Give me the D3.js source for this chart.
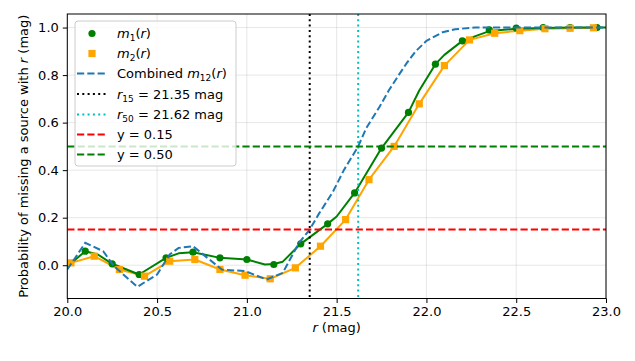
<!DOCTYPE html>
<html>
<head>
<meta charset="utf-8">
<script src="https://cdn.jsdelivr.net/npm/d3@7"></script>
<style>
  body { margin: 0; background: #fff; }
  svg { display: block; font-family: "DejaVu Sans", sans-serif; }
</style>
</head>
<body>
<svg id="chart" width="635" height="361"></svg>
<script>
// ---- data ----
const m1X = [20.10,20.25,20.40,20.55,20.70,20.85,21.00,21.15,21.30,21.45,21.60,21.75,21.90,22.05,22.20,22.35,22.50,22.65,22.80,22.95];
const m1Y = [0.059,0.006,-0.039,0.031,0.055,0.031,0.024,0.003,0.090,0.174,0.304,0.493,0.643,0.846,0.944,0.990,0.998,1.0,1.0,1.0];

const m2X = [20.02,20.15,20.29,20.43,20.57,20.71,20.85,20.99,21.13,21.27,21.41,21.55,21.68,21.82,21.96,22.10,22.24,22.38,22.52,22.66,22.80,22.93];
const m2Y = [0.010,0.038,-0.018,-0.046,0.017,0.024,-0.018,-0.042,-0.057,-0.011,0.080,0.192,0.360,0.500,0.679,0.840,0.948,0.976,0.987,0.995,0.997,0.999];

// smooth curves drawn through the bins
const m1LineX = [20.00,20.10,20.17,20.25,20.40,20.55,20.62,20.70,20.85,21.00,21.10,21.15,21.20,21.30,21.45,21.50,21.60,21.75,21.90,21.96,22.05,22.10,22.20,22.35,22.50,22.65,22.80,22.95,23.00];
const m1LineY = [-0.005,0.059,0.045,0.006,-0.039,0.031,0.050,0.055,0.031,0.024,0.003,0.005,0.015,0.090,0.174,0.205,0.304,0.493,0.643,0.735,0.846,0.885,0.944,0.985,0.995,0.998,1.0,1.0,1.0];
const m2LineX = m2X.slice();
const m2LineY = m2Y.slice();

const m12X = [20.00,20.10,20.20,20.26,20.39,20.50,20.57,20.62,20.70,20.86,20.99,21.11,21.20,21.29,21.35,21.40,21.48,21.54,21.62,21.665,21.74,21.79,21.85,21.89,21.94,22.00,22.09,22.16,22.27,22.50,23.00];
const m12Y = [-0.018,0.094,0.059,-0.004,-0.091,-0.039,0.045,0.073,0.080,-0.018,-0.025,-0.060,-0.032,0.094,0.150,0.215,0.310,0.400,0.500,0.577,0.668,0.735,0.805,0.850,0.900,0.944,0.980,0.993,1.0,1.0,1.0];

const r15 = 21.35, r50 = 21.62;
const hLevels = [0.15, 0.50];

const xTicks = [20.0,20.5,21.0,21.5,22.0,22.5,23.0];
const yTicks = [0.0,0.2,0.4,0.6,0.8,1.0];

// ---- layout ----
const FS = 13;
const svg = d3.select("#chart");
const L = 67.3, R = 606, T = 14, B = 298.5;
const x = d3.scaleLinear().domain([20, 23]).range([L, R]);
const y = d3.scaleLinear().domain([-0.14, 1.057]).range([B, T]);

svg.append("defs").append("clipPath").attr("id","clip")
  .append("rect").attr("x",L).attr("y",T).attr("width",R-L).attr("height",B-T);

// grid
const grid = svg.append("g");
grid.selectAll(".gx").data(xTicks).enter().append("line")
  .attr("x1", d=>x(d)).attr("x2", d=>x(d)).attr("y1", T).attr("y2", B)
  .attr("stroke", "#b0b0b0").attr("stroke-opacity", 0.3).attr("stroke-width", 1);
grid.selectAll(".gy").data(yTicks).enter().append("line")
  .attr("x1", L).attr("x2", R).attr("y1", d=>y(d)).attr("y2", d=>y(d))
  .attr("stroke", "#b0b0b0").attr("stroke-opacity", 0.3).attr("stroke-width", 1);

const plot = svg.append("g").attr("clip-path","url(#clip)");
const line = d3.line().x(d=>x(d[0])).y(d=>y(d[1]));
const zip = (a,b) => a.map((v,i)=>[v,b[i]]);

plot.append("path").datum(zip(m2LineX,m2LineY)).attr("d",line)
  .attr("fill","none").attr("stroke","#ffa500").attr("stroke-width",2).attr("stroke-linejoin","round");
plot.append("path").datum(zip(m1LineX,m1LineY)).attr("d",line)
  .attr("fill","none").attr("stroke","#008000").attr("stroke-width",2).attr("stroke-linejoin","round");

// markers
plot.selectAll(".m1").data(zip(m1X,m1Y)).enter().append("circle")
  .attr("cx", d=>x(d[0])).attr("cy", d=>y(d[1])).attr("r", 3.6).attr("fill","#008000");
plot.selectAll(".m2").data(zip(m2X,m2Y)).enter().append("rect")
  .attr("x", d=>x(d[0])-3.6).attr("y", d=>y(d[1])-3.6).attr("width",7.2).attr("height",7.2).attr("fill","#ffa500");

// combined
plot.append("path").datum(zip(m12X,m12Y)).attr("d",line)
  .attr("fill","none").attr("stroke","#1f77b4").attr("stroke-width",2).attr("stroke-dasharray","7.2,3.1");

// vertical lines
plot.append("line").attr("x1",x(r15)).attr("x2",x(r15)).attr("y1",T).attr("y2",B)
  .attr("stroke","#000").attr("stroke-width",2).attr("stroke-dasharray","2,3.3");
plot.append("line").attr("x1",x(r50)).attr("x2",x(r50)).attr("y1",T).attr("y2",B)
  .attr("stroke","#00bfbf").attr("stroke-width",2).attr("stroke-dasharray","2,3.3");
// horizontal lines
const hColors = ["#ff0000","#008000"];
hLevels.forEach((v,i)=>{
  plot.append("line").attr("x1",L).attr("x2",R).attr("y1",y(v)).attr("y2",y(v))
    .attr("stroke",hColors[i]).attr("stroke-width",2).attr("stroke-dasharray","7.2,3.1");
});

// axes
const xAxis = svg.append("g").attr("transform",`translate(0,${B})`)
  .call(d3.axisBottom(x).tickValues(xTicks).tickFormat(d3.format(".1f")).tickSize(4.5).tickPadding(4));
const yAxis = svg.append("g").attr("transform",`translate(${L},0)`)
  .call(d3.axisLeft(y).tickValues(yTicks).tickFormat(d3.format(".1f")).tickSize(4.5).tickPadding(4));
[xAxis,yAxis].forEach(a=>{
  a.select(".domain").remove();
  a.selectAll("text").attr("font-size",FS).attr("fill","#000").attr("font-family","DejaVu Sans");
  a.selectAll("line").attr("stroke","#000").attr("stroke-width",1);
});
// frame
svg.append("rect").attr("x",L).attr("y",T).attr("width",R-L).attr("height",B-T)
  .attr("fill","none").attr("stroke","#000").attr("stroke-width",1);

// axis labels
const xl = svg.append("text").attr("x",(L+R)/2).attr("y",332).attr("text-anchor","middle").attr("font-size",FS);
xl.append("tspan").attr("font-style","italic").text("r");
xl.append("tspan").text(" (mag)");
const yl = svg.append("text").attr("transform",`translate(28,${(T+B)/2}) rotate(-90)`).attr("text-anchor","middle").attr("font-size",FS);
yl.append("tspan").text("Probability of missing a source with ");
yl.append("tspan").attr("font-style","italic").text("r");
yl.append("tspan").text(" (mag)");

// legend
const lg = svg.append("g");
lg.append("rect").attr("x",75).attr("y",21).attr("width",161).attr("height",145).attr("rx",3)
  .attr("fill","#fff").attr("fill-opacity",0.8).attr("stroke","#cccccc").attr("stroke-width",1);
const rows = [33.5, 53.5, 73.5, 94, 114.5, 134.5, 154.5];
const hx1 = 77, hx2 = 106, tx = 117;
lg.append("circle").attr("cx",92).attr("cy",rows[0]).attr("r",3.6).attr("fill","#008000");
lg.append("rect").attr("x",92-3.6).attr("y",rows[1]-3.6).attr("width",7.2).attr("height",7.2).attr("fill","#ffa500");
const handles = [
  {row:2, color:"#1f77b4", dash:"7.2,3.1"},
  {row:3, color:"#000", dash:"2,3.3"},
  {row:4, color:"#00bfbf", dash:"2,3.3"},
  {row:5, color:"#ff0000", dash:"7.2,3.1"},
  {row:6, color:"#008000", dash:"7.2,3.1"}
];
handles.forEach(h=>{
  lg.append("line").attr("x1",hx1).attr("x2",hx2).attr("y1",rows[h.row]).attr("y2",rows[h.row])
    .attr("stroke",h.color).attr("stroke-width",2).attr("stroke-dasharray",h.dash);
});
function legText(row, parts){
  const t = lg.append("text").attr("x",tx).attr("y",rows[row]+4.5).attr("font-size",FS);
  let shifted = 0;
  parts.forEach(p=>{
    const s = t.append("tspan").text(p.t);
    if (p.i) s.attr("font-style","italic");
    if (p.sub) { s.attr("font-size",9).attr("dy", 3 - shifted); shifted = 3; }
    else if (shifted) { s.attr("dy", -shifted); shifted = 0; }
  });
}
legText(0,[{t:"m",i:1},{t:"1",sub:1},{t:"("},{t:"r",i:1},{t:")"}]);
legText(1,[{t:"m",i:1},{t:"2",sub:1},{t:"("},{t:"r",i:1},{t:")"}]);
legText(2,[{t:"Combined "},{t:"m",i:1},{t:"12",sub:1},{t:"("},{t:"r",i:1},{t:")"}]);
legText(3,[{t:"r",i:1},{t:"15",sub:1},{t:" = 21.35 mag"}]);
legText(4,[{t:"r",i:1},{t:"50",sub:1},{t:" = 21.62 mag"}]);
legText(5,[{t:"y = 0.15"}]);
legText(6,[{t:"y = 0.50"}]);
</script>
</body>
</html>
